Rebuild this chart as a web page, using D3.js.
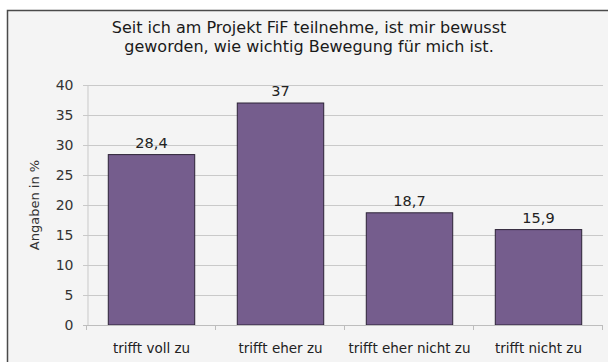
<!DOCTYPE html>
<html>
<head>
<meta charset="utf-8">
<script src="https://cdn.jsdelivr.net/npm/d3@7"></script>
<style>
  html, body { margin: 0; padding: 0; background: #fff; overflow: hidden; }
  svg { display: block; }
</style>
</head>
<body>
<svg id="chart" width="608" height="362"></svg>
<script>
const categories = ["trifft voll zu", "trifft eher zu", "trifft eher nicht zu", "trifft nicht zu"];
const values = [28.4, 37, 18.7, 15.9];
const valueLabels = ["28,4", "37", "18,7", "15,9"];
const yTicks = [0, 5, 10, 15, 20, 25, 30, 35, 40];
const titleLines = ["Seit ich am Projekt FiF teilnehme, ist mir bewusst",
                    "geworden, wie wichtig Bewegung für mich ist."];
const yAxisTitle = "Angaben in %";

const font = "'DejaVu Sans', Verdana, sans-serif";
const svg = d3.select("#chart");

// panel background, framed along its top and left edges
svg.append("rect")
  .attr("x", 7).attr("y", 10).attr("width", 601).attr("height", 352)
  .attr("fill", "#f4f4f4");
svg.append("path")
  .attr("d", "M7.5,362V10.5H608")
  .attr("fill", "none").attr("stroke", "#4a4a4a").attr("stroke-width", 1.5);

const plot = { left: 87, right: 603, top: 85, bottom: 325 };

const x = d3.scaleBand().domain(categories)
  .range([plot.left, plot.right]).paddingInner(0.33).paddingOuter(0.165);
const xb = d3.scaleBand().domain(categories).range([plot.left, plot.right]);
const y = d3.scaleLinear().domain([0, 40]).range([plot.bottom, plot.top]);

// horizontal gridlines
svg.append("g")
  .selectAll("line").data(yTicks.filter(d => d > 0)).join("line")
  .attr("x1", plot.left - 4).attr("x2", plot.right)
  .attr("y1", d => y(d) + 0.5).attr("y2", d => y(d) + 0.5)
  .attr("stroke", "#c9c9c9").attr("stroke-width", 1);

// y axis
const yAxis = svg.append("g")
  .attr("transform", `translate(${plot.left + 0.5},0)`)
  .call(d3.axisLeft(y).tickValues(yTicks).tickSize(4).tickPadding(10));
yAxis.select(".domain").attr("stroke", "#c9c9c9");
yAxis.selectAll(".tick line").attr("stroke", "#c9c9c9");
yAxis.selectAll(".tick text")
  .attr("font-family", font).attr("font-size", 14).attr("fill", "#333");

// bars
svg.append("g")
  .selectAll("rect").data(values).join("rect")
  .attr("x", (d, i) => x(categories[i]))
  .attr("y", d => y(d))
  .attr("width", x.bandwidth())
  .attr("height", d => y(0) - y(d))
  .attr("fill", "#755d8d")
  .attr("stroke", "#2c2236").attr("stroke-width", 1);

// x axis with ticks at band boundaries
const bounds = categories.map(c => xb(c)).concat([plot.right]);
svg.append("line")
  .attr("x1", plot.left - 4).attr("x2", plot.right)
  .attr("y1", plot.bottom + 0.5).attr("y2", plot.bottom + 0.5)
  .attr("stroke", "#bdbdbd");
svg.append("g")
  .selectAll("line").data(bounds).join("line")
  .attr("x1", d => d - 0.5).attr("x2", d => d - 0.5)
  .attr("y1", plot.bottom).attr("y2", plot.bottom + 5)
  .attr("stroke", "#bdbdbd");

svg.append("g")
  .selectAll("text").data(categories).join("text")
  .attr("x", d => xb(d) + xb.bandwidth() / 2)
  .attr("y", 353)
  .attr("text-anchor", "middle")
  .attr("font-family", font).attr("font-size", 13.5).attr("fill", "#222")
  .text(d => d);

// value labels
svg.append("g")
  .selectAll("text").data(values).join("text")
  .attr("x", (d, i) => x(categories[i]) + x.bandwidth() / 2)
  .attr("y", d => y(d) - 7)
  .attr("text-anchor", "middle")
  .attr("font-family", font).attr("font-size", 14.5).attr("fill", "#222")
  .text((d, i) => valueLabels[i]);

// y axis title
svg.append("text")
  .attr("transform", `translate(39,${(plot.top + plot.bottom) / 2}) rotate(-90)`)
  .attr("text-anchor", "middle")
  .attr("font-family", font).attr("font-size", 13).attr("fill", "#333")
  .text(yAxisTitle);

// title
svg.append("g")
  .selectAll("text").data(titleLines).join("text")
  .attr("x", 309)
  .attr("y", (d, i) => 33 + i * 19)
  .attr("text-anchor", "middle")
  .attr("font-family", font).attr("font-size", 16).attr("fill", "#1a1a1a")
  .text(d => d);
</script>
</body>
</html>
